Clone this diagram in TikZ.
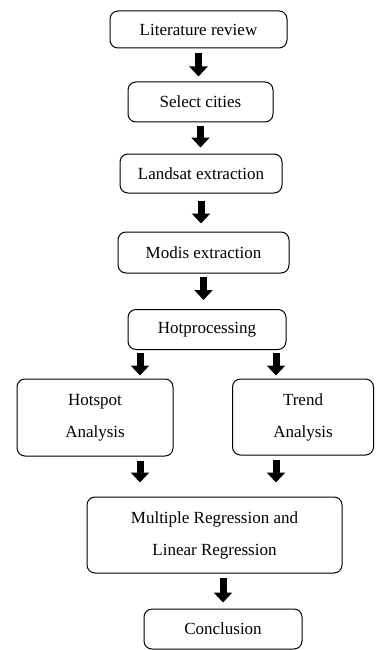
\documentclass[tikz,border=0pt]{standalone}
\usepackage{fontspec}
\setmainfont{Liberation Serif}
\usetikzlibrary{arrows.meta}

\begin{document}
\begin{tikzpicture}[x=1pt, y=-1pt]
        % ================= styles =================
        \tikzset{
            % rounded white box with black border
            stepnode/.style={rectangle, rounded corners=8pt, draw=black, line width=1pt, fill=white, inner sep=0pt, align=center, font=\fontsize{17}{32}\selectfont},
            % thick black block arrow
            down_arrow/.style={line width=7pt, black, -{Triangle[width=18pt, length=10pt]}}
        }
        \useasboundingbox (0,0) rectangle (375,650);

        % ================= coordinates =================
        % main column
        \coordinate (lit_p) at (198.5, 29.5);
        \coordinate (sel_p) at (200.5, 102);
        \coordinate (land_p) at (201, 173.5);
        \coordinate (mod_p) at (203.5, 252.5);
        \coordinate (hot_p) at (207, 329.5);
        % two branches
        \coordinate (spot_p) at (95, 417.5);
        \coordinate (trend_p) at (303, 417);
        % bottom
        \coordinate (mult_p) at (214.5, 535);
        \coordinate (concl_p) at (223, 629);
        % x of the branch arrows
        \coordinate (lx) at (140, 0);
        \coordinate (rx) at (276, 0);

        % ================= boxes =================
        \node[stepnode, minimum width=177pt, minimum height=37pt] (lit) at (lit_p) {Literature review};
        \node[stepnode, minimum width=145pt, minimum height=40pt] (sel) at (sel_p) {Select cities};
        \node[stepnode, minimum width=162pt, minimum height=39pt] (land) at (land_p) {Landsat extraction};
        \node[stepnode, minimum width=171pt, minimum height=41pt] (mod) at (mod_p) {Modis extraction};
        \node[stepnode, minimum width=158pt, minimum height=40pt] (hot) at (hot_p) {Hotprocessing};
        \node[stepnode, minimum width=156pt, minimum height=77pt] (spot) at (spot_p) {Hotspot\\Analysis};
        \node[stepnode, minimum width=141pt, minimum height=76pt] (trend) at (trend_p) {Trend\\Analysis};
        \node[stepnode, minimum width=255pt, minimum height=76pt] (mult) at (mult_p) {Multiple Regression and\\Linear Regression};
        \node[stepnode, minimum width=158pt, minimum height=40pt] (concl) at (concl_p) {Conclusion};

        % ================= arrows =================
        \draw[down_arrow] ([yshift=-5pt]lit.south) -- ([yshift=5pt]lit.south |- sel.north);
        \draw[down_arrow] ([yshift=-4pt]sel.south) -- ([yshift=6pt]sel.south |- land.north);
        \draw[down_arrow] ([yshift=-7pt]land.south) -- ([yshift=8pt]land.south |- mod.north);
        \draw[down_arrow] ([yshift=-3pt]mod.south) -- ([yshift=9pt]mod.south |- hot.north);
        % split into two branches
        \draw[down_arrow] ([yshift=-3pt]hot.south -| lx) -- ([yshift=3pt]spot.north -| lx);
        \draw[down_arrow] ([yshift=-3pt]hot.south -| rx) -- ([yshift=3pt]trend.north -| rx);
        % join into the regression box
        \draw[down_arrow] ([yshift=-4pt]spot.south -| lx) -- ([yshift=14pt]mult.north -| lx);
        \draw[down_arrow] ([yshift=-4pt]trend.south -| rx) -- ([yshift=14pt]mult.north -| rx);
        \draw[down_arrow] ([yshift=-4pt]mult.south -| concl) -- ([yshift=6pt]concl.north);

    \end{tikzpicture}
\end{document}
